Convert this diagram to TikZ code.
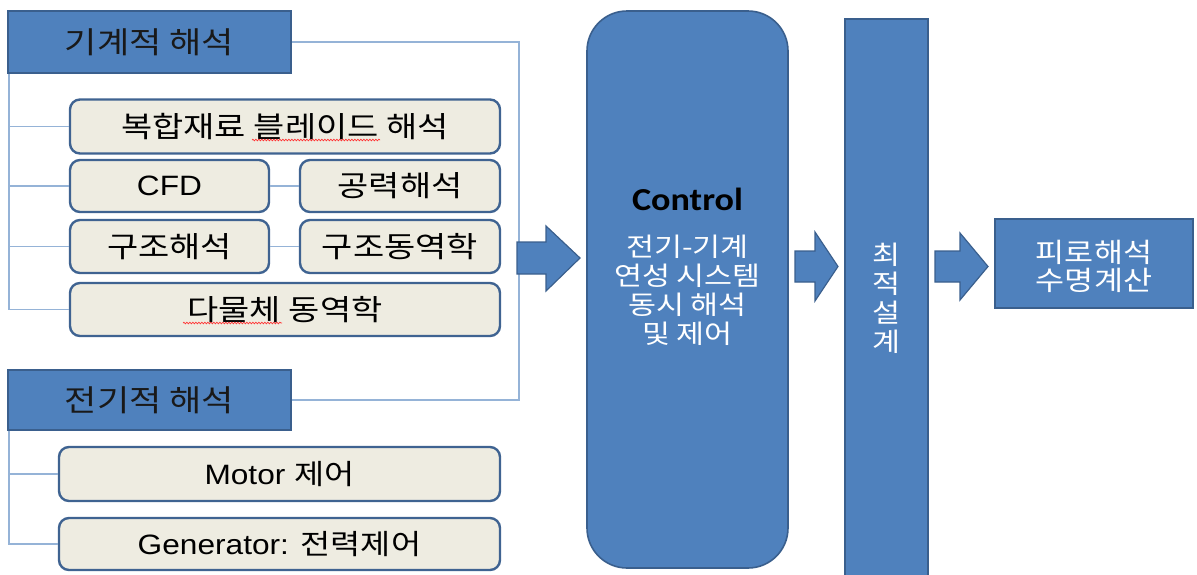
\documentclass[tikz,border=0pt]{standalone}
\usepackage{fontspec}
\setmainfont[FakeStretch=1.13]{Liberation Sans}
\newfontfamily\kr[FakeStretch=1.17]{Noto Sans CJK KR}
\newfontfamily\ctlfont[FakeStretch=1.13]{Carlito}
\usetikzlibrary{decorations.pathmorphing}
\definecolor{hblue}{HTML}{4F81BD}
\definecolor{hline}{HTML}{3A5F8D}
\definecolor{boxfill}{HTML}{EEECE1}
\definecolor{boxline}{HTML}{3F6391}
\definecolor{treeline}{HTML}{95B3D7}
\tikzset{
  hdr/.style={draw=hline, line width=2pt, fill=hblue, inner sep=0pt, text=black!90,
    font=\kr\fontsize{30}{34}\selectfont},
  rbox/.style={draw=boxline, line width=2.4pt, fill=boxfill, rounded corners=10pt, inner sep=0pt,
    text=black, font=\kr\fontsize{29}{33}\selectfont},
  bluebox/.style={draw=hline, line width=1.6pt, fill=hblue, inner sep=0pt},
  wtext/.style={text=white, align=center, inner sep=0pt, font=\kr\fontsize{26}{29}\selectfont},
  tree/.style={draw=treeline, line width=1.2pt},
  blockarrow/.style={draw=hline, line width=1.2pt, fill=hblue, line join=miter},
  squiggle/.style={draw=red!80, line width=0.7pt, decorate,
    decoration={snake, amplitude=0.8pt, segment length=3pt}}
}
\begin{document}
\begin{tikzpicture}[x=1pt,y=-1pt]
\useasboundingbox (0,0) rectangle (1197,574);

% left headers
\node[hdr, minimum width=283, minimum height=62] (h1) at (149.5,42) {기계적 해석};
\node[hdr, minimum width=283, minimum height=60] (h2) at (149.5,400) {전기적 해석};

% mechanical sub boxes
\node[rbox, minimum width=430, minimum height=54] (b1) at (285,126.5) {복합재료 블레이드 해석};
\node[rbox, minimum width=199, minimum height=52] (cfd) at (169.5,186) {\rmfamily\fontsize{28}{32}\selectfont CFD};
\node[rbox, minimum width=200, minimum height=52] (aero) at (400,186) {공력해석};
\node[rbox, minimum width=199, minimum height=53] (str) at (169.5,246.5) {구조해석};
\node[rbox, minimum width=200, minimum height=53] (dyn) at (400,246.5) {구조동역학};
\node[rbox, minimum width=430, minimum height=53] (mb) at (285,309.5) {다물체 동역학};

% electrical sub boxes
\node[rbox, minimum width=441, minimum height=54] (mot) at (279.5,474) {\rmfamily\fontsize{28}{32}\selectfont Motor {\kr 제어}};
\node[rbox, minimum width=441, minimum height=52] (gen) at (279.5,544) {\rmfamily\fontsize{28}{32}\selectfont Generator: {\kr 전력제어}};

% tree lines
\draw[tree] ([xshift=2pt]h1.south west) |- (b1.west);
\draw[tree] ([xshift=2pt]h1.south west) |- (cfd.west);
\draw[tree] ([xshift=2pt]h1.south west) |- (str.west);
\draw[tree] ([xshift=2pt]h1.south west) |- (mb.west);
\draw[tree] (cfd) -- (aero);
\draw[tree] (str) -- (dyn);
\draw[tree] ([xshift=2pt]h2.south west) |- (mot.west);
\draw[tree] ([xshift=2pt]h2.south west) |- (gen.west);
\coordinate (rb) at (519,42);
\draw[tree] (h1.east) -- (rb) |- (h2.east);

% control box
\node[bluebox, rounded corners=40pt, minimum width=201, minimum height=557] (ctrl) at (687.5,289.5) {};
\node[inner sep=0pt, font=\ctlfont\bfseries\fontsize{32}{36}\selectfont, text=black] (ctrlt) at (687.5,199) {Control};
\node[wtext] (ctrlk) at (687.5,290) {전기-기계\\연성 시스템\\동시 해석\\및 제어};

% optimization bar
\node[bluebox, minimum width=83, minimum height=561] (opt) at (886.5,299.5) {};
\node[wtext] (optt) at (886.5,298.5) {최\\적\\설\\계};

% fatigue box
\node[bluebox, minimum width=198, minimum height=89] (fat) at (1094,263.5) {};
\node[wtext, font=\kr\fontsize{27}{28}\selectfont] (fatt) at (1094,266) {피로해석\\수명계산};

% block arrows
\draw[blockarrow] (517,242) -- (546,242) -- (546,226) -- (580,258) -- (546,291) -- (546,274) -- (517,274) -- cycle;
\draw[blockarrow] (795,251) -- (815,251) -- (815,232) -- (838,266.5) -- (815,301) -- (815,282) -- (795,282) -- cycle;
\draw[blockarrow] (935,251) -- (960,251) -- (960,233) -- (988,266.5) -- (960,300) -- (960,282) -- (935,282) -- cycle;

% spell-check squiggles
\draw[squiggle] (252,140) -- (380,140);
\draw[squiggle] (183,323) -- (282,323);
\end{tikzpicture}
\end{document}
